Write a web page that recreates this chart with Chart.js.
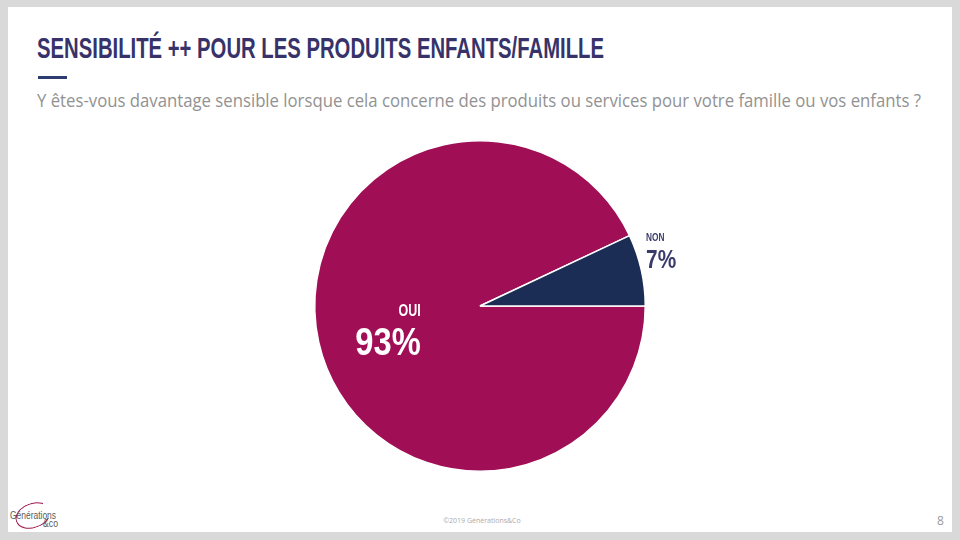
<!DOCTYPE html>
<html>
<head>
<meta charset="utf-8">
<script src="https://cdn.jsdelivr.net/npm/chart.js@4.4.0/dist/chart.umd.min.js"></script>
<style>
	html, body { margin: 0; padding: 0; }
	body { width: 960px; height: 540px; background: #d9d9d9; position: relative; overflow: hidden; font-family: "Liberation Sans", sans-serif; }
	#slide { position: absolute; left: 8px; top: 7px; width: 944px; height: 525px; background: #fff; }
	.fit { position: absolute; white-space: nowrap; transform-origin: 0 0; }
	#title { left: 37px; top: 31px; font: bold 30px "Liberation Sans", sans-serif; color: #37336a; }
	#bar { position: absolute; left: 38px; top: 76px; width: 29px; height: 3px; background: #2d3d72; }
	#subtitle { left: 37px; top: 88px; font: 18px "Open Sans", sans-serif; color: #929292; }
	#pieBox { position: absolute; left: 250px; top: 126px; width: 460px; height: 360px; }
	#footer { position: absolute; left: 2px; width: 960px; top: 516px; text-align: center; font: 7px "Open Sans", sans-serif; color: #aaa; }
	#page { position: absolute; left: 937px; top: 512px; font: 12px "Open Sans", sans-serif; color: #999; }
	#logo1 { left: 10px; top: 509px; font: 11px "Liberation Sans", sans-serif; color: #5a5a5a; }
	#logo2 { left: 43px; top: 518px; font: 10px "Liberation Sans", sans-serif; color: #5a5a5a; }
	#ring { position: absolute; left: 15px; top: 503px; width: 34px; height: 23px; border: 1.5px solid #a0184f; border-radius: 50%; border-right-color: transparent; transform: rotate(-20deg); }
</style>
</head>
<body>
<div id="slide"></div>
<div id="title" class="fit" data-w="567">SENSIBILITÉ ++ POUR LES PRODUITS ENFANTS/FAMILLE</div>
<div id="bar"></div>
<div id="subtitle" class="fit" data-w="884">Y êtes-vous davantage sensible lorsque cela concerne des produits ou services pour votre famille ou vos enfants ?</div>
<div id="pieBox"><canvas id="pie"></canvas></div>
<div id="ring"></div>
<div id="logo1" class="fit" data-w="46">Générations</div>
<div id="logo2" class="fit" data-w="15">&amp;co</div>
<div id="footer">©2019 Générations&amp;Co</div>
<div id="page">8</div>
<script>
const labels = ["OUI", "NON"];
const values = [93, 7];
const colors = ["#a00f55", "#1b2d55"];
const labelColors = ["#ffffff", "#3a3a6b"];

// squeeze the text blocks to the widths seen on the slide
document.querySelectorAll(".fit").forEach((el) => {
	const w = el.getBoundingClientRect().width;
	el.style.transform = `scaleX(${parseFloat(el.dataset.w) / w})`;
});

// condensed text: draw with Liberation Sans squeezed horizontally
function squeezedText(ctx, txt, x, y, size, sx, align) {
	ctx.save();
	ctx.font = `bold ${size}px "Liberation Sans"`;
	const w = ctx.measureText(txt).width * sx;
	let left = x;
	if (align == "right") left = x - w;
	else if (align == "center") left = x - w / 2;
	ctx.translate(left, y);
	ctx.scale(sx, 1);
	ctx.textAlign = "left";
	ctx.textBaseline = "alphabetic";
	ctx.fillText(txt, 0, 0);
	ctx.restore();
}

const sliceLabels = {
	id: "sliceLabels",
	afterDatasetsDraw(chart) {
		const ctx = chart.ctx;
		const meta = chart.getDatasetMeta(0);
		meta.data.forEach((arc, i) => {
			const R = arc.outerRadius;
			const mid = (arc.startAngle + arc.endAngle) / 2;
			ctx.save();
			ctx.fillStyle = labelColors[i];
			if (i == 0) {
				// inside the big slice, right aligned
				const x = arc.x + Math.cos(mid) * R * 0.38 + 2;
				const y = arc.y + Math.sin(mid) * R * 0.38;
				squeezedText(ctx, labels[i], x, y - 4, 16, 0.78, "right");
				squeezedText(ctx, values[i] + "%", x, y + 35, 38, 0.86, "right");
			} else {
				// outside the small slice, left aligned
				const x = arc.x + Math.cos(mid) * R * 1.03;
				const y = arc.y + Math.sin(mid) * R * 1.03;
				squeezedText(ctx, labels[i], x, y - 28, 11.5, 0.72, "left");
				squeezedText(ctx, values[i] + "%", x, y - 1, 26, 0.8, "left");
			}
			ctx.restore();
		});
	},
};

new Chart(document.getElementById("pie"), {
	type: "pie",
	data: {
		labels: labels,
		datasets: [
			{
				data: values,
				backgroundColor: colors,
				borderColor: "#ffffff",
				borderWidth: 1.5,
				hoverOffset: 0,
			},
		],
	},
	plugins: [sliceLabels],
	options: {
		responsive: true,
		maintainAspectRatio: false,
		animation: false,
		rotation: 90,
		layout: { padding: { left: 64, right: 64, top: 14, bottom: 14 } },
		plugins: {
			legend: { display: false },
			tooltip: { enabled: false },
		},
	},
});
</script>
</body>
</html>
